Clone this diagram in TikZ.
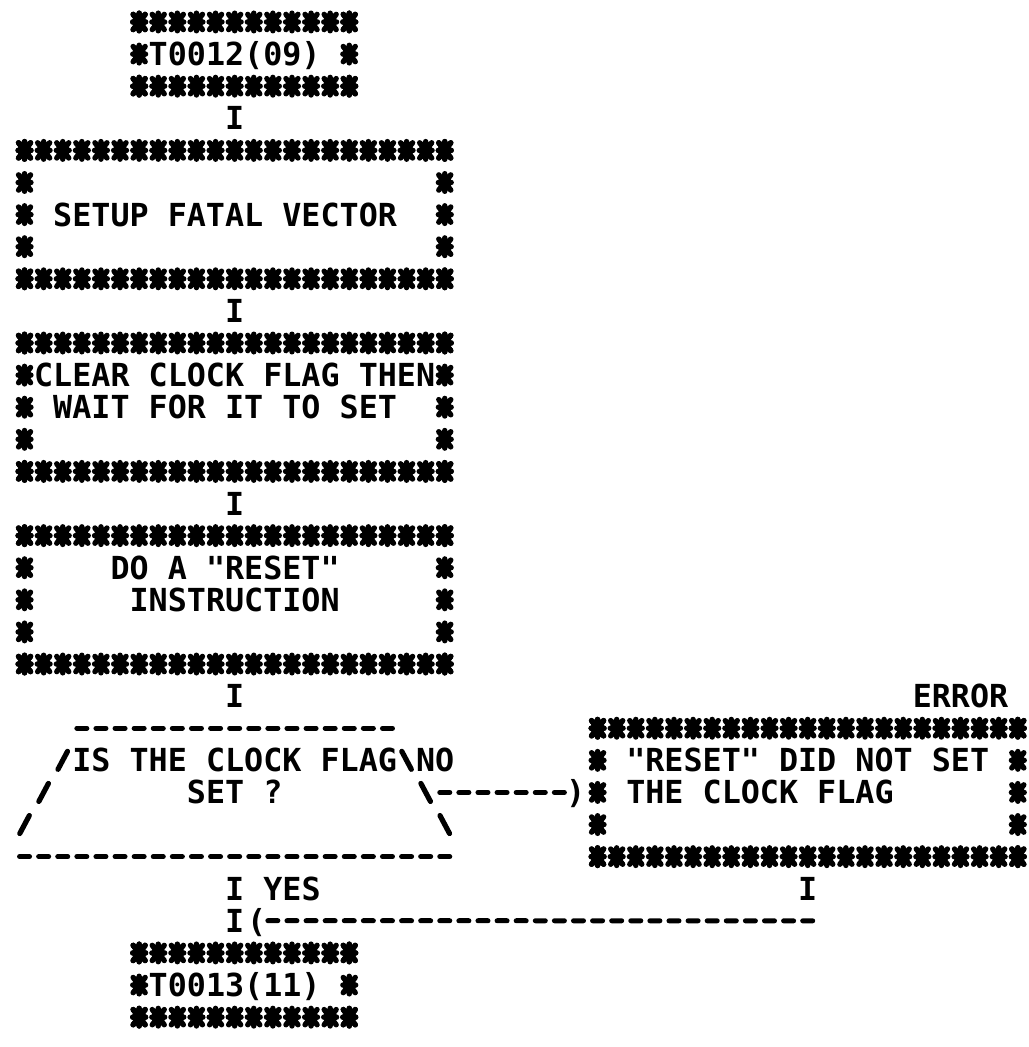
\documentclass[tikz,border=0pt]{standalone}
\usepackage{fontspec}
\usepackage{tikz}

\newfontfamily\monofont{DejaVu Sans Mono}
\newcommand{\gridfont}{\monofont\bfseries\fontsize{15.86pt}{16.05pt}\selectfont}
\newcommand{\padch}{\hphantom{0}}

\begin{document}
\begin{tikzpicture}[x=9.55pt, y=-16.05pt,
  glyph/.style={font=\gridfont, inner sep=0pt, text height=13.8pt, text depth=2.25pt},
  framed/.style 2 args={glyph, minimum width=#1*9.55pt, minimum height=#2*16.05pt},
  dashline/.style={line width=2.5pt, line cap=round, dash pattern=on 5pt off 4.55pt, dash phase=7.275pt},
  slash/.style={line width=2.6pt, line cap=round},
  aster/.pic={
    \fill (0,0) ellipse (3.3pt and 4pt);
    \draw[line width=2.7pt, line cap=round] (0pt,-4.4pt) -- (0pt,4.4pt)
      (-3.2pt,0pt) -- (3.2pt,0pt) (-3pt,-3.8pt) -- (3pt,3.8pt) (-3pt,3.8pt) -- (3pt,-3.8pt);
  }]
\useasboundingbox (-1.285,-0.685) rectangle (52.537,31.93);
% boxes
\node[framed={12}{3}] (top) at (11.5,1) {T0012(09)\padch};
\node[framed={23}{5}] (setup) at (11,6) {SETUP FATAL VECTOR\padch};
\node[framed={23}{5}, align=center] (clear) at (11,12) {CLEAR CLOCK FLAG THEN\\WAIT FOR IT TO SET\padch};
\node[framed={23}{5}, align=center] (reset) at (11,18) {DO A "RESET"\padch\\INSTRUCTION};
\node[framed={23}{5}, align=center] (dec) at (11,24) {IS THE CLOCK FLAG\\SET ?};
\node[framed={23}{5}, align=left] (err) at (41,24) {"RESET" DID NOT SET\\THE CLOCK FLAG};
\node[framed={12}{3}] (bot) at (11.5,30) {T0013(11)\padch};
% frames of asterisks
\foreach \ca/\ra/\cb/\rb in {6/0/17/2, 0/4/22/8, 0/10/22/14, 0/16/22/20, 30/22/52/26, 6/29/17/31} {
  \foreach \c in {\ca,...,\cb} { \pic at (\c,\ra) {aster}; \pic at (\c,\rb) {aster}; }
  \foreach \r in {\ra,...,\rb} { \pic at (\ca,\r) {aster}; \pic at (\cb,\r) {aster}; }
}
% decision outline
\draw[dashline] (2.5,22) -- (19.5,22);
\draw[dashline] (-0.5,26) -- (22.5,26);
\foreach \c/\r in {2/23, 1/24, 0/25} \draw[slash] (\c-0.25,\r+0.28) -- (\c+0.25,\r-0.28);
\foreach \c/\r in {20/23, 21/24, 22/25} \draw[slash] (\c-0.25,\r-0.28) -- (\c+0.25,\r+0.28);
% labels
\node[glyph] (errtag) at (49,21) {ERROR};
\node[glyph] (no) at (21.5,23) {NO};
\node[glyph] (yes) at (14,27) {YES};
% connectors
\path (top.south -| setup.north) -- node[glyph] (i1) {I} (setup.north);
\path (setup.south) -- node[glyph] (i2) {I} (clear.north);
\path (clear.south) -- node[glyph] (i3) {I} (reset.north);
\path (reset.south) -- node[glyph] (i4) {I} (dec.north);
\path (dec.south) -- node[glyph, pos=0.25] (i5) {I} node[glyph, pos=0.75] (i6) {I} (dec.south |- bot.north);
\coordinate (decR) at (21.5,24);
\draw[dashline, shorten >=9.55pt] (decR) -- node[glyph, pos=1, anchor=east] (rpar) {)} (err.west);
\coordinate (errend) at (41.5,28);
\path (err.south) -- node[glyph, pos=0.333] (i7) {I} (err.south |- errend);
\draw[dashline, shorten >=9.55pt] (errend) -- node[glyph, pos=1, anchor=west] (lpar) {(} (i6.east);
\end{tikzpicture}
\end{document}
